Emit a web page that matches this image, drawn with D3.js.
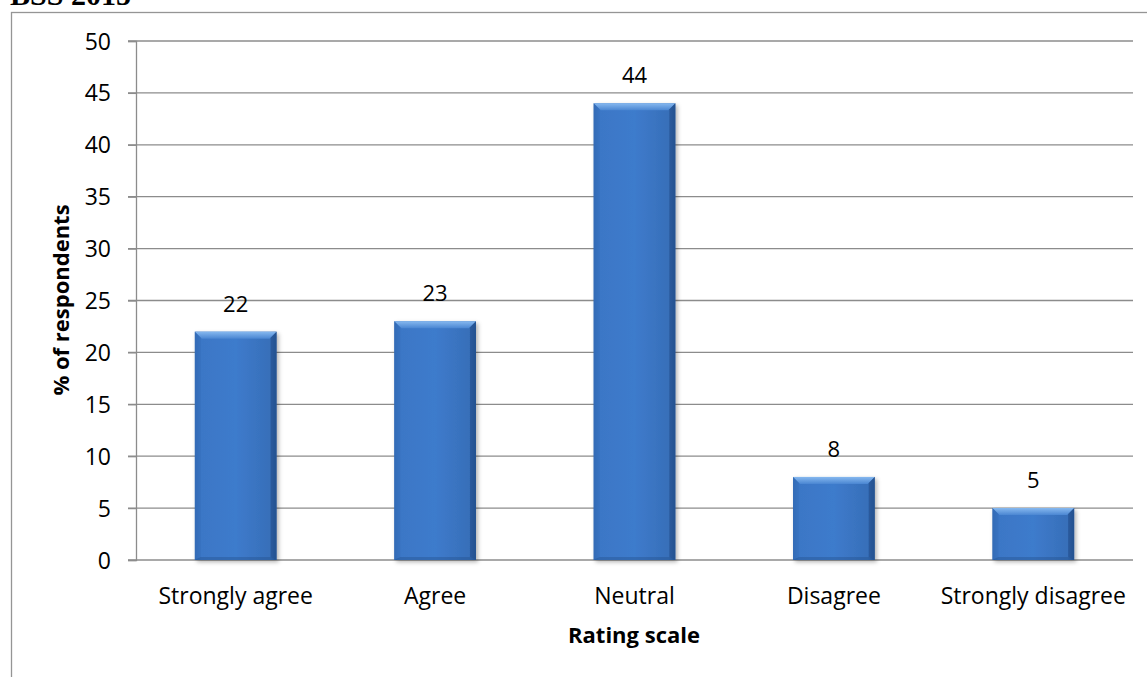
<html>
<head>
<script src="https://d3js.org/d3.v7.min.js"></script>
<style>
body { margin: 0; background: #fff; }
text { font-family: "Open Sans", Lato, sans-serif; fill: #000; }
</style>
</head>
<body>
<svg id="chart" width="1147" height="677"></svg>
<script>
// chart data
var categories = ["Strongly agree", "Agree", "Neutral", "Disagree", "Strongly disagree"];
var values = [22, 23, 44, 8, 5];
var yTicks = [0, 5, 10, 15, 20, 25, 30, 35, 40, 45, 50];

var svg = d3.select("#chart");

// header text cut off at top, and the frame around the chart
svg.append("text")
  .attr("x", 10).attr("y", 5)
  .style("font-family", "'Liberation Serif', serif")
  .style("font-weight", "bold")
  .style("font-size", "30px")
  .text("BSS 2015");

svg.append("rect")
  .attr("x", 11.5).attr("y", 12.5)
  .attr("width", 1150).attr("height", 700)
  .attr("fill", "none").attr("stroke", "#959595").attr("stroke-width", 1.3);

var x = d3.scaleBand().domain(categories).range([136, 1133]).paddingInner(0.59).paddingOuter(0.295);
var y = d3.scaleLinear().domain([0, 50]).range([560, 41]);

// gradients for the bevelled bars
var defs = svg.append("defs");
var g1 = defs.append("linearGradient").attr("id", "barBody").attr("x1", 0).attr("x2", 1).attr("y1", 0).attr("y2", 0);
g1.append("stop").attr("offset", "0%").attr("stop-color", "#2f66ae");
g1.append("stop").attr("offset", "8%").attr("stop-color", "#3b77c6");
g1.append("stop").attr("offset", "50%").attr("stop-color", "#3e7bcc");
g1.append("stop").attr("offset", "92%").attr("stop-color", "#376fb9");
g1.append("stop").attr("offset", "100%").attr("stop-color", "#275797");
var g2 = defs.append("linearGradient").attr("id", "barTop").attr("x1", 0).attr("x2", 0).attr("y1", 0).attr("y2", 1);
g2.append("stop").attr("offset", "0%").attr("stop-color", "#86b8ef");
g2.append("stop").attr("offset", "100%").attr("stop-color", "#4a86d2");
var f = defs.append("filter").attr("id", "shadow").attr("x", "-20%").attr("y", "-5%").attr("width", "140%").attr("height", "115%");
f.append("feDropShadow").attr("dx", 2).attr("dy", 2).attr("stdDeviation", 2).attr("flood-color", "#000").attr("flood-opacity", 0.3);

// gridlines
svg.append("g").selectAll("line").data(yTicks).enter().append("line")
  .attr("x1", 128).attr("x2", 1133)
  .attr("y1", function(d) { return y(d); }).attr("y2", function(d) { return y(d); })
  .attr("stroke", "#8c8c8c").attr("stroke-width", 1.3);

// y axis
var yAxis = svg.append("g")
  .attr("transform", "translate(136,0)")
  .call(d3.axisLeft(y).tickValues(yTicks).tickSize(8).tickPadding(17));
yAxis.select(".domain").attr("stroke", "#8c8c8c").attr("stroke-width", 1.3);
yAxis.selectAll(".tick line").attr("stroke", "#8c8c8c").attr("stroke-width", 1.3);
yAxis.selectAll("text").style("font-size", "23px").style("font-family", "'Open Sans', sans-serif").attr("dy", "0.35em");

// bars
var bars = svg.append("g").selectAll("g").data(values).enter().append("g");
bars.append("rect")
  .attr("x", function(d, i) { return x(categories[i]); })
  .attr("y", function(d) { return y(d); })
  .attr("width", x.bandwidth())
  .attr("height", function(d) { return y(0) - y(d); })
  .attr("fill", "url(#barBody)")
  .attr("filter", "url(#shadow)");
// top bevel
bars.append("path")
  .attr("d", function(d, i) {
    var x0 = x(categories[i]), x1 = x0 + x.bandwidth(), t = y(d), b = 7;
    return "M" + x0 + "," + t + "L" + x1 + "," + t + "L" + (x1 - b) + "," + (t + b) + "L" + (x0 + b) + "," + (t + b) + "Z";
  })
  .attr("fill", "url(#barTop)");
// side bevels
bars.append("path")
  .attr("d", function(d, i) {
    var x0 = x(categories[i]), t = y(d), bt = y(0), b = 6;
    return "M" + x0 + "," + t + "L" + (x0 + b) + "," + (t + b) + "L" + (x0 + b) + "," + (bt - 3) + "L" + x0 + "," + bt + "Z";
  })
  .attr("fill", "#3570bd").attr("opacity", 0.5);
bars.append("path")
  .attr("d", function(d, i) {
    var x1 = x(categories[i]) + x.bandwidth(), t = y(d), bt = y(0), b = 6;
    return "M" + x1 + "," + t + "L" + (x1 - b) + "," + (t + b) + "L" + (x1 - b) + "," + (bt - 3) + "L" + x1 + "," + bt + "Z";
  })
  .attr("fill", "#234f8c").attr("opacity", 0.6);
bars.append("path")
  .attr("d", function(d, i) {
    var x0 = x(categories[i]), x1 = x0 + x.bandwidth(), bt = y(0), b = 3;
    return "M" + x0 + "," + bt + "L" + (x0 + 6) + "," + (bt - b) + "L" + (x1 - 6) + "," + (bt - b) + "L" + x1 + "," + bt + "Z";
  })
  .attr("fill", "#234f8c").attr("opacity", 0.4);

// value labels
bars.append("text")
  .attr("x", function(d, i) { return x(categories[i]) + x.bandwidth() / 2; })
  .attr("y", function(d) { return y(d) - 20; })
  .attr("text-anchor", "middle")
  .style("font-size", "22px")
  .text(function(d) { return d; });

// category labels
svg.append("g").selectAll("text").data(categories).enter().append("text")
  .attr("x", function(d) { return x(d) + x.bandwidth() / 2; })
  .attr("y", 604)
  .attr("text-anchor", "middle")
  .style("font-size", "23px")
  .text(function(d) { return d; });

// axis titles
svg.append("text")
  .attr("x", 634).attr("y", 643)
  .attr("text-anchor", "middle")
  .style("font-size", "22px").style("font-weight", "bold")
  .text("Rating scale");

svg.append("text")
  .attr("transform", "translate(69,300) rotate(-90)")
  .attr("text-anchor", "middle")
  .style("font-size", "22px").style("font-weight", "bold")
  .text("% of respondents");
</script>
</body>
</html>
